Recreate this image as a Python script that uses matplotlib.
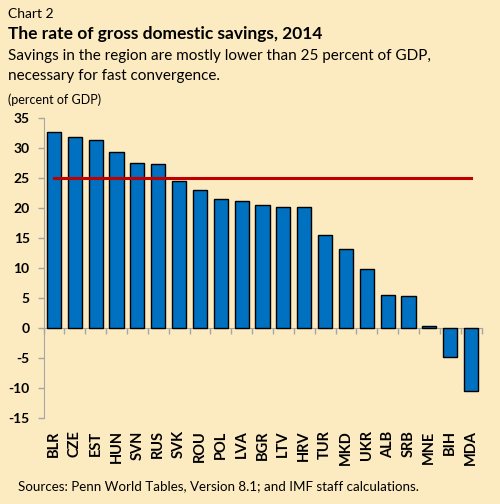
import numpy as np
import matplotlib.pyplot as plt

countries = ["BLR", "CZE", "EST", "HUN", "SVN", "RUS", "SVK", "ROU", "POL", "LVA", "BGR",
             "LTV", "HRV", "TUR", "MKD", "UKR", "ALB", "SRB", "MNE", "BIH", "MDA"]
savings = [32.7, 31.9, 31.4, 29.4, 27.5, 27.4, 24.5, 23.0, 21.5, 21.2, 20.5,
           20.2, 20.2, 15.6, 13.3, 9.9, 5.6, 5.4, 0.4, -4.7, -10.5]
threshold = 25
yticks = [-15, -10, -5, 0, 5, 10, 15, 20, 25, 30, 35]

bg = "#FCEBC0"
plt.rcParams['font.family'] = ['Lato', 'DejaVu Sans']

fig = plt.figure(figsize=(5, 5.04), dpi=100, facecolor=bg)
ax = fig.add_axes([0.087, 0.17, 0.876, 0.595], facecolor=bg)

x = np.arange(len(countries))
ax.bar(x, savings, width=0.68, color="#0070C0", edgecolor="black", linewidth=1.0, zorder=2)
ax.plot(x, [threshold] * len(x), color="#C00000", linewidth=2.2, zorder=3)

ax.set_xlim(-0.5, len(x) - 0.5)
ax.set_ylim(-15, 35)
ax.set_yticks(yticks)
ax.set_yticklabels([str(t) for t in yticks], fontsize=10, fontweight="bold")

# category labels under the plot, ticks at boundaries on the zero line
ax.set_xticks(np.arange(len(x) + 1) - 0.5)
ax.set_xticklabels([])
ax.tick_params(axis="x", direction="out", length=4, color="#A6A6A6", width=1)
ax.tick_params(axis="y", direction="out", length=4, color="#A6A6A6", width=1, pad=6)
for i, c in enumerate(countries):
    ax.text(i, -17, c, rotation=90, ha="center", va="top", fontsize=10.5,
            fontweight="bold", transform=ax.transData, clip_on=False)

for s in ["top", "right"]:
    ax.spines[s].set_visible(False)
ax.spines["bottom"].set_position(("data", 0))
ax.spines["bottom"].set_color("#A6A6A6")
ax.spines["left"].set_color("#A6A6A6")
ax.spines["bottom"].set_zorder(1)

fig.text(0.016, 0.972, "Chart 2", fontsize=10, va="center")
fig.text(0.016, 0.932, "The rate of gross domestic savings, 2014", fontsize=12.5,
         fontweight="bold", va="center")
fig.text(0.016, 0.889, "Savings in the region are mostly lower than 25 percent of GDP,",
         fontsize=11, va="center")
fig.text(0.016, 0.849, "necessary for fast convergence.", fontsize=11, va="center")
fig.text(0.016, 0.803, "(percent of GDP)", fontsize=9, va="center")
fig.text(0.036, 0.036, "Sources: Penn World Tables, Version 8.1; and IMF staff calculations.",
         fontsize=9.6, va="center")

fig.savefig("out.png", dpi=100, facecolor=bg)
